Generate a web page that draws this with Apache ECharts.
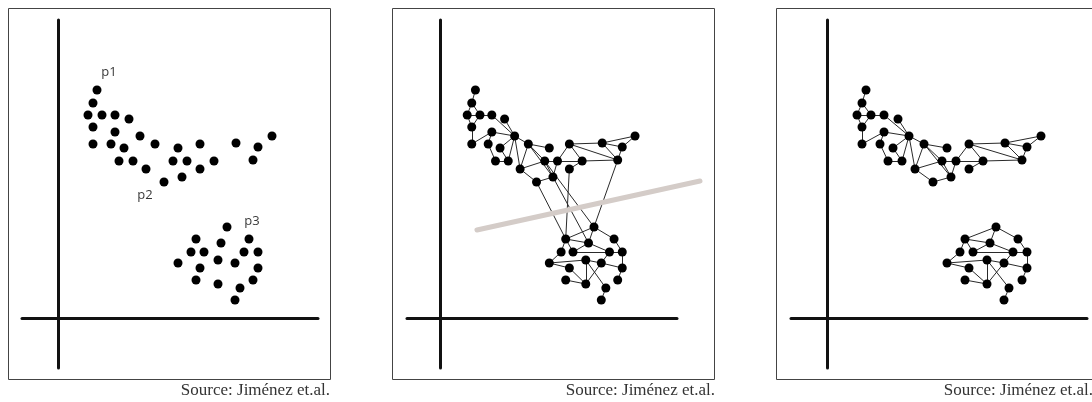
<!DOCTYPE html>
<html>
<head>
<meta charset="utf-8">
<script src="https://cdn.jsdelivr.net/npm/echarts@6/dist/echarts.min.js"></script>
<style>
  html, body { margin: 0; padding: 0; background: #fff; }
  #chart { width: 1092px; height: 402px; }
</style>
</head>
<body>
<div id="chart"></div>
<script>
(function() {
  'use strict';

  // point positions, measured from the axis origin of each panel
  var upperPts = [
    [39,228],[35,215],[30,203],[44,203],[57,203],[71,199],[35,191],[57,186],
    [82,182],[35,174],[53,174],[66,170],[97,174],[120,170],[142,174],[178,175],
    [214,182],[200,171],[195,158],[61,157],[75,157],[88,149],[115,157],[129,157],
    [156,157],[142,149],[124,141],[106,136]
  ];
  var lowerPts = [
    [169,91],[138,79],[163,75],[191,79],[133,66],[146,66],[186,66],[200,66],
    [120,55],[142,50],[160,58],[177,55],[200,50],[138,38],[160,34],[195,38],
    [182,30],[177,18]
  ];

  // neighbourhood edges (indices into upperPts / lowerPts)
  var upperLinks = [
    [0,1],[1,2],[1,3],[2,3],[3,4],[2,6],[3,6],[6,9],[9,7],[7,8],[4,8],[5,8],
    [7,10],[10,19],[19,20],[11,8],[11,20],[8,20],[8,21],[8,12],[12,21],[12,13],
    [12,22],[12,26],[21,27],[21,22],[27,26],[22,26],[22,23],[23,26],[23,24],
    [23,14],[14,24],[25,24],[14,15],[14,18],[24,18],[15,16],[15,17],[15,18],
    [16,17],[17,18]
  ];
  var lowerLinks = [
    [0,1],[0,2],[0,3],[1,2],[1,4],[1,5],[2,5],[2,6],[4,8],[5,6],[6,7],[6,11],
    [3,7],[7,12],[8,9],[8,10],[10,11],[9,14],[10,14],[10,16],[11,14],[11,12],
    [12,15],[13,14],[16,17]
  ];
  // edges between the two groups (upper index, lower index), middle panel only
  var crossLinks = [[27,1],[25,1],[26,2],[22,0],[18,0]];

  var pointLabels = [
    { name: 'p1', value: [51,246] },
    { name: 'p2', value: [87,123] },
    { name: 'p3', value: [194,97] }
  ];
  var cutLine = [[40.7,88],[285.2,137]];
  var sourceText = 'Source: Jiménez et.al.';

  var allPts = upperPts.concat(lowerPts);
  var n = upperPts.length;

  function makeLinks(withCross) {
    var links = upperLinks.map(function(l) { return { source: l[0], target: l[1] }; });
    lowerLinks.forEach(function(l) { links.push({ source: l[0] + n, target: l[1] + n }); });
    if (withCross) {
      crossLinks.forEach(function(l) { links.push({ source: l[0], target: l[1] + n }); });
    }
    return links;
  }

  function axis(min, max, idx, hidden) {
    return {
      type: 'value', gridIndex: idx, min: min, max: max,
      show: !hidden,
      axisLine: { onZero: true, lineStyle: { color: '#111', width: 3 } },
      axisTick: { show: false },
      axisLabel: { show: false },
      splitLine: { show: false }
    };
  }

  function graphSeries(idx, withCross) {
    return {
      type: 'graph',
      coordinateSystem: 'cartesian2d',
      xAxisIndex: idx,
      yAxisIndex: idx,
      symbolSize: 9,
      itemStyle: { color: '#000', opacity: 1 },
      lineStyle: { color: '#2a2a2a', width: 1, opacity: 1 },
      label: { show: false },
      emphasis: { disabled: true },
      data: allPts,
      links: makeLinks(withCross)
    };
  }

  // 4th grid overlays the middle panel with the same scale, wider, for the cut line
  var grids = [
    { left: 22, top: 20, width: 296, height: 348 },
    { left: 407, top: 20, width: 270, height: 348 },
    { left: 791, top: 20, width: 296, height: 348 },
    { left: 407, top: 20, width: 330, height: 348 }
  ];
  var wideMax = -36 + 330 * 296 / 270;

  var frames = [8.5, 392.5, 776.5].map(function(x, i) {
    return {
      type: 'rect',
      shape: { x: x, y: 8.5, width: i === 2 ? 330 : 322, height: 371 },
      style: { fill: 'none', stroke: '#444', lineWidth: 1 },
      silent: true
    };
  });
  var sources = [330, 715, 1093].map(function(x) {
    return {
      type: 'text',
      x: x, y: 382,
      style: {
        text: sourceText, align: 'right', verticalAlign: 'top',
        font: '17px "Liberation Serif", serif', fill: '#333'
      },
      silent: true
    };
  });

  var chart = echarts.init(document.getElementById('chart'));
  chart.setOption({
    backgroundColor: '#fff',
    animation: false,
    grid: grids,
    xAxis: [axis(-36, 260, 0), axis(-36, 260, 1), axis(-36, 260, 2), axis(-36, wideMax, 3, true)],
    yAxis: [axis(-50, 298, 0), axis(-50, 298, 1), axis(-50, 298, 2), axis(-50, 298, 3, true)],
    graphic: frames.concat(sources),
    series: [
      {
        type: 'scatter',
        xAxisIndex: 0, yAxisIndex: 0,
        symbolSize: 9,
        itemStyle: { color: '#000', opacity: 1 },
        emphasis: { disabled: true },
        data: allPts
      },
      {
        type: 'scatter',
        xAxisIndex: 0, yAxisIndex: 0,
        symbolSize: 0,
        silent: true,
        label: {
          show: true, position: 'inside', formatter: '{b}',
          color: '#000', fontSize: 13, fontFamily: '"Open Sans", sans-serif'
        },
        data: pointLabels
      },
      graphSeries(1, true),
      {
        type: 'line',
        xAxisIndex: 3, yAxisIndex: 3,
        z: 3,
        symbol: 'none',
        silent: true,
        lineStyle: { color: '#d4ccc8', width: 5, cap: 'round' },
        data: cutLine
      },
      graphSeries(2, false)
    ]
  });
})();
</script>
</body>
</html>
